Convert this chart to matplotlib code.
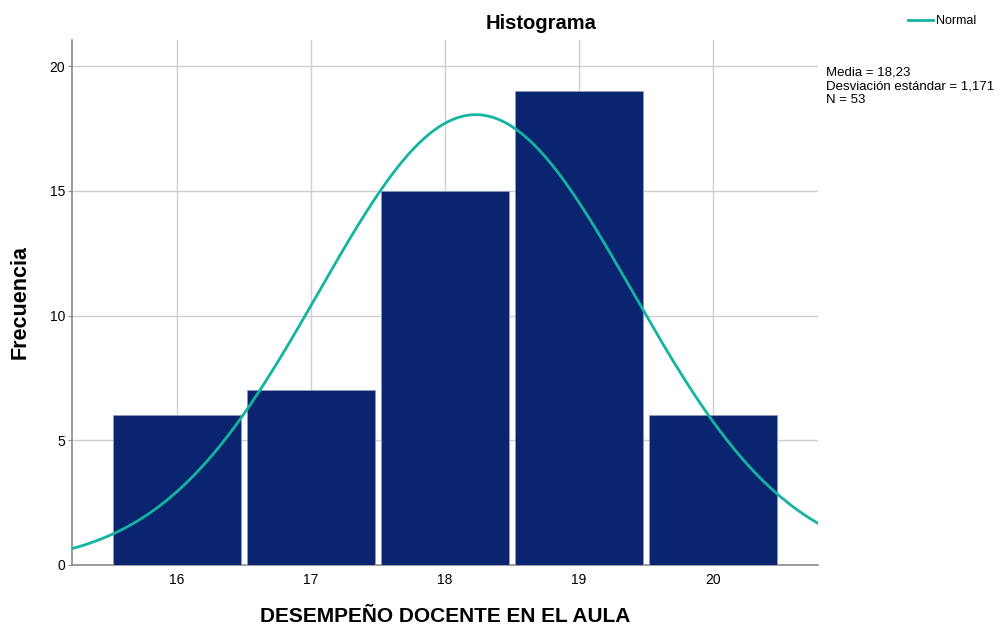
import numpy as np
import matplotlib
matplotlib.use('Agg')
import matplotlib.pyplot as plt

plt.rcParams['font.family'] = ['Liberation Sans', 'DejaVu Sans']

# datos del histograma
valores = [16, 17, 18, 19, 20]
frecuencias = [6, 7, 15, 19, 6]
media = 18.23
desv = 1.171
n = 53

fig = plt.figure(figsize=(10.07, 6.27), dpi=100)
ax = fig.add_axes([0.0715, 0.0989, 0.7408, 0.8373])

ax.bar(valores, frecuencias, width=0.955, color='#0b2470', edgecolor='#8d9cc4', linewidth=0.6, zorder=3)

# curva normal escalada
xs = np.linspace(15.216, 20.785, 300)
ys = n * 1.0 / (desv * np.sqrt(2 * np.pi)) * np.exp(-0.5 * ((xs - media) / desv) ** 2)
ax.plot(xs, ys, color='#12b5a0', lw=2.0, zorder=4, label='Normal')

ax.set_xlim(15.216, 20.785)
ax.set_ylim(0, 21.05)
ax.set_xticks(valores)
ax.set_yticks([0, 5, 10, 15, 20])
ax.grid(True, color='#cfcfcf', lw=1.0, zorder=0)
for s in ['top', 'right']:
    ax.spines[s].set_visible(False)
for s in ['left', 'bottom']:
    ax.spines[s].set_color('#8a8a8a')
    ax.spines[s].set_linewidth(1.2)
ax.tick_params(axis='y', length=3, color='#8a8a8a', labelsize=10, pad=2)
ax.tick_params(axis='x', length=0, labelsize=10, pad=6)

fig.text(0.442, 0.016, 'DESEMPEÑO DOCENTE EN EL AULA', ha='center', va='center',
         fontsize=15, fontweight='bold')
fig.text(0.020, 0.518, 'Frecuencia', ha='center', va='center', rotation=90,
         fontsize=15.5, fontweight='bold')
fig.text(0.537, 0.963, 'Histograma', ha='center', va='center', fontsize=14.5, fontweight='bold')

fig.legend(loc='upper left', bbox_to_anchor=(0.897, 0.984), frameon=False, fontsize=9,
           handlelength=2.0, handletextpad=0.2, borderaxespad=0)
fig.text(0.820, 0.894, 'Media = 18,23\nDesviación estándar = 1,171\nN = 53',
         ha='left', va='top', fontsize=9.5, linespacing=1.2)

fig.savefig('out.png', dpi=100)
